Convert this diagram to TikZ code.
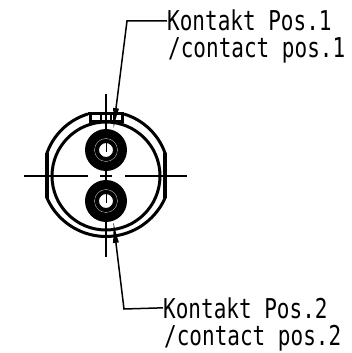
\documentclass[tikz,border=0pt]{standalone}
\usepackage{fontspec}
\setmonofont{DejaVu Sans Mono}
\usetikzlibrary{arrows.meta}
\tikzset{
  labeltext/.style={font=\ttfamily\fontsize{21}{26}\selectfont,yscale=1.3,inner sep=0pt,anchor=base west},
  contact/.style={circle,fill=black,minimum size=42pt,inner sep=0pt},
  hole/.style={circle,fill=white,draw=black,line width=1pt,minimum size=15pt,inner sep=0pt},
  leader/.style={line width=1.5pt,-{Latex[length=22pt,width=6pt]}},
  housing/.style={line width=3pt},
  centerline/.style={line width=1.5pt}
}
\begin{document}
\begin{tikzpicture}[x=1pt,y=1pt]
  \useasboundingbox (-106,-177) rectangle (245,176);
  % housing
  \draw[housing] (0,0) circle (54);
  \draw[housing] (-18,62) arc (106.7:160.4:62.6) -- (-59,-22) arc (203.8:336.2:64.5) -- (59,23) arc (19.6:73.3:62.6);
  \draw[line width=4pt] (-59,23) -- (-59,-22);
  \draw[line width=4pt] (59,23) -- (59,-22);
  \draw[housing] (-18,62) -- (18,62);
  \draw[housing] (-16,62) -- (-16,54) -- (16,54) -- (16,62);
  % tab ticks
  \foreach \tx in {-5,5,8} \draw[centerline] (\tx,61) -- (\tx,54);
  % centre lines
  \draw[centerline] (-82,0) -- (-18,0);
  \draw[centerline] (19,0) -- (81,0);
  \draw[centerline] (-6,0) -- (6,0);
  \draw[centerline] (0,82) -- (0,-81);
  % contacts
  \node[contact] (top) at (0,26) {};
  \draw[gray!30,line width=.3pt] (top) circle (11.5);
  \node[hole] (tophole) at (0,26) {};
  \node[contact] (bottom) at (0,-25) {};
  \draw[gray!30,line width=.3pt] (bottom) circle (11.5);
  \node[hole] (bottomhole) at (0,-25) {};
  \draw[line width=1pt] (0,34) -- (0,24);
  \draw[line width=1pt] (0,-17) -- (0,-27);
  % labels
  \node[labeltext] (pos1) at (61,145) {Kontakt Pos.1};
  \node[labeltext] (pos1en) at (62,118) {/contact pos.1};
  \node[labeltext] (pos2) at (57,-142) {Kontakt Pos.2};
  \node[labeltext] (pos2en) at (58,-169) {/contact pos.2};
  \coordinate (bend1) at (21,155);
  \coordinate (bend2) at (18,-133);
  \draw[leader] (pos1.west) -- (bend1) -- (top.70);
  \draw[leader] (pos2.west) -- (bend2) -- (bottom.-70);
\end{tikzpicture}
\end{document}
